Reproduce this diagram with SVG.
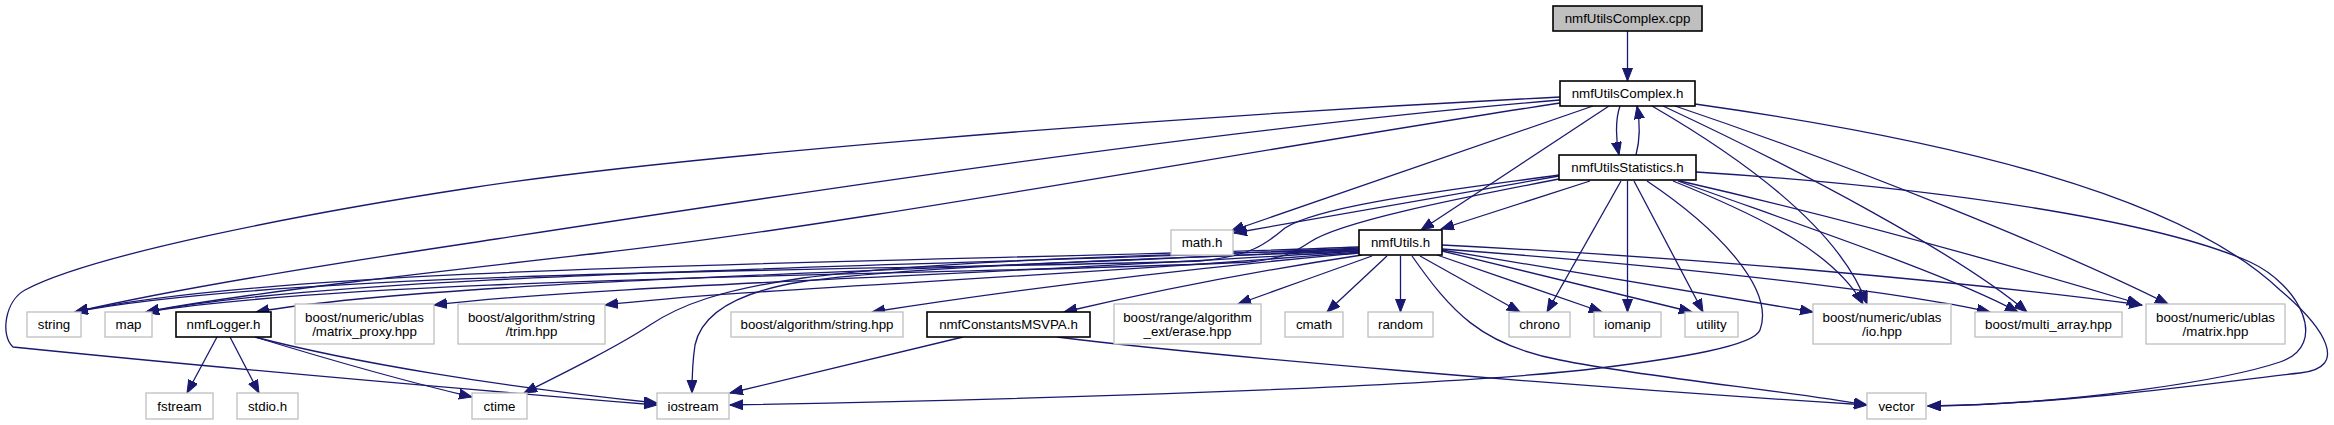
<svg xmlns="http://www.w3.org/2000/svg" width="2334" height="425" viewBox="0 0 2334 425">
<style>
.n rect{fill:#fff;stroke:#bfbfbf;stroke-width:1.3}
.d rect{fill:#fff;stroke:#000;stroke-width:1.6}
.cur rect{fill:#bfbfbf;stroke:#000;stroke-width:1.6}
text{font-family:"Liberation Sans",Arial,sans-serif;font-size:13.3px;fill:#000;text-anchor:middle}
#edges path{fill:none;stroke:#191970;stroke-width:1.3;marker-end:url(#ah)}
</style>
<defs>
<marker id="ah" markerUnits="userSpaceOnUse" markerWidth="14" markerHeight="11" refX="13" refY="5" orient="auto"><path d="M0,0 L13,5 L0,10 z" fill="#191970" stroke="#191970" stroke-width="1"/></marker>
</defs>
<rect width="2334" height="425" fill="#fff"/>
<g id="edges">
<path d="M1627.5,31 L1627.5,81"/>
<path d="M1620,106 C1615,120 1616,140 1619,155"/>
<path d="M1636,155 C1640,140 1640,122 1637,106"/>
<path d="M1593,106 L1231,231"/>
<path d="M1609,106 L1421,230"/>
<path d="M1560,100 C1200,130 750,200 470,243 C330,264 160,292 75,312"/>
<path d="M1560,103 C1250,150 850,225 600,253 C450,270 230,295 146,312"/>
<path d="M1560,97 C1100,120 650,160 470,188 C300,214 90,255 25,290 C5,301 0,335 13,347 C200,366 450,388 657,405"/>
<path d="M1652,106 C1745,160 1840,230 1867,304"/>
<path d="M1663,106 C1800,170 1960,255 2027,312"/>
<path d="M1675,106 C1850,165 2060,250 2168,304"/>
<path d="M1695,104 C1950,140 2180,195 2280,290 C2325,328 2350,368 2300,373 C2250,378 2080,404 1928,406"/>
<path d="M1696,172 C1950,188 2160,222 2250,262 C2300,285 2330,345 2280,362 C2230,379 2080,404 1928,406"/>
<path d="M1673,181 C1770,220 1835,255 1863,304"/>
<path d="M1678,181 C1800,225 1950,275 2018,312"/>
<path d="M1680,181 C1850,220 2010,265 2140,304"/>
<path d="M1621,181 L1547,312"/>
<path d="M1627.5,181 L1627.5,312"/>
<path d="M1634,181 L1703,312"/>
<path d="M1647,181 C1720,230 1775,290 1760,330 C1754,346 1680,358 1600,368 C1440,388 1000,400 730,405"/>
<path d="M1590,181 L1441,229"/>
<path d="M1559,176 L1234,233"/>
<path d="M1559,175 C1450,190 1320,205 1285,228 C1265,245 1250,256 1200,261 C950,270 300,268 75,312"/>
<path d="M1559,179 C1450,200 1340,222 1310,242 C1295,252 1285,258 1250,262 C1000,275 380,275 146,312"/>
<path d="M1359,247 C1000,262 300,262 75,312"/>
<path d="M1359,248 C1000,266 360,270 146,312"/>
<path d="M1359,249 C1000,270 450,278 256,312"/>
<path d="M1359,251 C1000,275 600,285 434,305"/>
<path d="M1359,252 C1050,278 750,288 605,305"/>
<path d="M1359,253 C1150,272 1000,292 872,312"/>
<path d="M1362,255 C1250,272 1150,292 1064,312"/>
<path d="M1372,256 C1320,275 1290,285 1238,304"/>
<path d="M1387,256 L1327,312"/>
<path d="M1400.5,256 L1400.5,312"/>
<path d="M1359,250 C1100,255 900,265 803,278 C720,290 680,305 650,325 C620,345 570,370 524,393"/>
<path d="M1359,251 C1100,260 900,268 800,282 C740,292 702,312 695,345 C692,365 692,380 692,393"/>
<path d="M1420,256 L1520,312"/>
<path d="M1437,255 L1602,312"/>
<path d="M1442,251 L1692,312"/>
<path d="M1442,250 L1813,312"/>
<path d="M1442,249 C1700,268 1900,292 1990,312"/>
<path d="M1442,245 C1700,258 1950,280 2142,305"/>
<path d="M1412,256 C1450,310 1480,345 1560,360 C1650,378 1780,390 1867,405"/>
<path d="M217,337 L187,393"/>
<path d="M230,337 L259,393"/>
<path d="M255,337 C330,360 400,380 472,397"/>
<path d="M255,337 C350,362 500,387 657,403"/>
<path d="M963,337 L730,393"/>
<path d="M1057,337 C1200,355 1550,385 1867,405"/>
</g>
<g id="node-cpp" class="cur"><rect x="1553" y="6" width="149" height="25"/><text x="1627.5" y="23.3">nmfUtilsComplex.cpp</text></g>
<g id="node-complex" class="d"><rect x="1560" y="81" width="135" height="25"/><text x="1627.5" y="98.3">nmfUtilsComplex.h</text></g>
<g id="node-statistics" class="d"><rect x="1559" y="155" width="137" height="25"/><text x="1627.5" y="172.3">nmfUtilsStatistics.h</text></g>
<g id="node-math" class="n"><rect x="1171" y="230" width="62" height="25"/><text x="1202" y="247.3">math.h</text></g>
<g id="node-utils" class="d"><rect x="1359" y="230" width="83" height="25"/><text x="1400.5" y="247.3">nmfUtils.h</text></g>
<g id="node-string" class="n"><rect x="27" y="312" width="54" height="25"/><text x="54" y="329.3">string</text></g>
<g id="node-map" class="n"><rect x="105" y="312" width="47" height="25"/><text x="128.5" y="329.3">map</text></g>
<g id="node-logger" class="d"><rect x="176" y="312" width="95" height="25"/><text x="223.5" y="329.3">nmfLogger.h</text></g>
<g id="node-matrix-proxy" class="n"><rect x="295" y="304" width="139" height="40"/><text x="364.5" y="321.8">boost/numeric/ublas</text><text x="364.5" y="335.8">/matrix_proxy.hpp</text></g>
<g id="node-trim" class="n"><rect x="458" y="304" width="147" height="40"/><text x="531.5" y="321.8">boost/algorithm/string</text><text x="531.5" y="335.8">/trim.hpp</text></g>
<g id="node-string-hpp" class="n"><rect x="731" y="312" width="172" height="25"/><text x="817" y="329.3">boost/algorithm/string.hpp</text></g>
<g id="node-msvpa" class="d"><rect x="927" y="312" width="163" height="25"/><text x="1008.5" y="329.3">nmfConstantsMSVPA.h</text></g>
<g id="node-erase" class="n"><rect x="1114" y="304" width="147" height="40"/><text x="1187.5" y="321.8">boost/range/algorithm</text><text x="1187.5" y="335.8">_ext/erase.hpp</text></g>
<g id="node-cmath" class="n"><rect x="1285" y="312" width="58" height="25"/><text x="1314" y="329.3">cmath</text></g>
<g id="node-random" class="n"><rect x="1368" y="312" width="65" height="25"/><text x="1400.5" y="329.3">random</text></g>
<g id="node-chrono" class="n"><rect x="1509" y="312" width="61" height="25"/><text x="1539.5" y="329.3">chrono</text></g>
<g id="node-iomanip" class="n"><rect x="1594" y="312" width="67" height="25"/><text x="1627.5" y="329.3">iomanip</text></g>
<g id="node-utility" class="n"><rect x="1685" y="312" width="53" height="25"/><text x="1711.5" y="329.3">utility</text></g>
<g id="node-io" class="n"><rect x="1813" y="304" width="138" height="40"/><text x="1882" y="321.8">boost/numeric/ublas</text><text x="1882" y="335.8">/io.hpp</text></g>
<g id="node-multi-array" class="n"><rect x="1975" y="312" width="147" height="25"/><text x="2048.5" y="329.3">boost/multi_array.hpp</text></g>
<g id="node-matrix" class="n"><rect x="2146" y="304" width="139" height="40"/><text x="2215.5" y="321.8">boost/numeric/ublas</text><text x="2215.5" y="335.8">/matrix.hpp</text></g>
<g id="node-fstream" class="n"><rect x="146" y="393" width="67" height="26"/><text x="179.5" y="410.8">fstream</text></g>
<g id="node-stdio" class="n"><rect x="237" y="393" width="61" height="26"/><text x="267.5" y="410.8">stdio.h</text></g>
<g id="node-ctime" class="n"><rect x="472" y="393" width="55" height="26"/><text x="499.5" y="410.8">ctime</text></g>
<g id="node-iostream" class="n"><rect x="657" y="393" width="72" height="26"/><text x="693" y="410.8">iostream</text></g>
<g id="node-vector" class="n"><rect x="1867" y="393" width="59" height="26"/><text x="1896.5" y="410.8">vector</text></g>
</svg>
